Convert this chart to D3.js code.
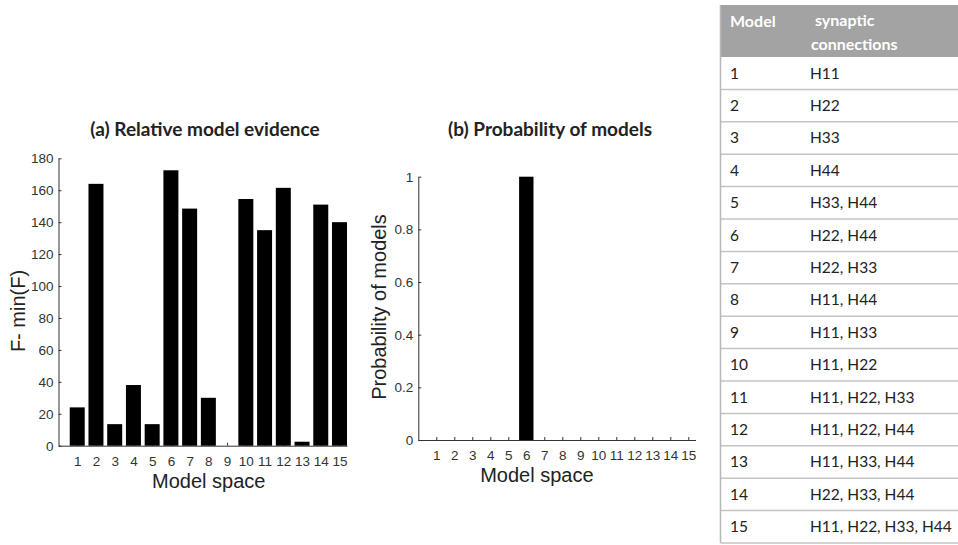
<!DOCTYPE html>
<html>
<head>
<meta charset="utf-8">
<script src="https://cdn.jsdelivr.net/npm/d3@7"></script>
<style>
  html, body { margin: 0; padding: 0; background: #fff; }
  svg { display: block; }
  .label { font-family: "Liberation Sans", Arial, sans-serif; font-size: 20px; fill: #222; }
  .title { font-family: Lato, "Open Sans", sans-serif; font-weight: 700; font-size: 19px; fill: #222; }
  .cell { font-family: Lato, "Open Sans", sans-serif; font-size: 15.5px; fill: #222; }
  .head { font-family: Lato, "Open Sans", sans-serif; font-weight: 700; font-size: 16px; fill: #fff; }
</style>
</head>
<body>
<svg id="chart" width="958" height="545"></svg>
<script>
// Model indices shared by both panels and the table
const models = [1, 2, 3, 4, 5, 6, 7, 8, 9, 10, 11, 12, 13, 14, 15];
// (a) relative log-evidence, F - min(F)
const evidence = [24, 164, 13.5, 38, 13.5, 172.5, 148.5, 30, 0, 154.5, 135, 161.5, 2.5, 151, 140];
// (b) posterior model probability
const probability = [0, 0, 0, 0, 0, 1, 0, 0, 0, 0, 0, 0, 0, 0, 0];
// synaptic connections present in each model
const connections = [
  "H11", "H22", "H33", "H44", "H33, H44", "H22, H44", "H22, H33", "H11, H44",
  "H11, H33", "H11, H22", "H11, H22, H33", "H11, H22, H44", "H11, H33, H44",
  "H22, H33, H44", "H11, H22, H33, H44"
];
const ticksA = [0, 20, 40, 60, 80, 100, 120, 140, 160, 180];
const ticksB = [0, 0.2, 0.4, 0.6, 0.8, 1];
const tableHeader = ["Model", "synaptic", "connections"];

const svg = d3.select("#chart");

function styleAxis(sel) {
  sel.attr("font-family", "'Liberation Sans', Arial, sans-serif").attr("font-size", 13.5);
  sel.selectAll("text").attr("fill", "#333");
  sel.selectAll("path, line").attr("stroke", "#333");
}

function panel(opts) {
  const g = svg.append("g");
  const x = d3.scaleLinear().domain([0, 15.4]).range([opts.x0, opts.x1]);
  const y = d3.scaleLinear().domain(opts.yDomain).range([opts.yBottom, opts.yTop]);
  const step = x(1) - x(0);
  const bw = step * 0.8;

  // x axis drawn first so the bars sit on top of its inward ticks
  g.append("g")
    .attr("transform", `translate(0,${opts.yBottom})`)
    .call(d3.axisBottom(x).tickValues(models).tickSizeInner(-3).tickSizeOuter(0).tickPadding(10.5).tickFormat(d3.format("d")))
    .call(styleAxis);

  g.append("g")
    .attr("transform", `translate(${opts.x0},0)`)
    .call(d3.axisLeft(y).tickValues(opts.ticks).tickSizeInner(-3).tickSizeOuter(0).tickPadding(5).tickFormat(opts.fmt))
    .call(styleAxis);

  g.selectAll("rect.bar").data(models).enter().append("rect")
    .attr("class", "bar")
    .attr("x", d => x(d) - bw / 2)
    .attr("width", bw)
    .attr("y", (d, i) => y(opts.values[i]))
    .attr("height", (d, i) => y(0) - y(opts.values[i]))
    .attr("fill", "#000");

  g.append("text").attr("class", "title")
    .attr("x", opts.titleX).attr("y", 136).attr("text-anchor", "middle")
    .text(opts.title);

  g.append("text").attr("class", "label")
    .attr("x", (opts.x0 + x(15.4)) / 2 + opts.xLabelShift).attr("y", opts.yBottom + 42)
    .attr("text-anchor", "middle").text("Model space");

  g.append("text").attr("class", "label")
    .attr("transform", `translate(${opts.yLabelX},${opts.yLabelY}) rotate(-90)`)
    .attr("text-anchor", "middle").text(opts.yLabel);
}

panel({
  x0: 58.5, x1: 347, yTop: 158.3, yBottom: 445.7, yDomain: [0, 180],
  values: evidence, ticks: ticksA, fmt: d3.format("d"),
  title: "(a) Relative model evidence", titleX: 205,
  yLabel: "F- min(F)", yLabelX: 25, yLabelY: 311, xLabelShift: 6
});

panel({
  x0: 418.3, x1: 695.5, yTop: 176.7, yBottom: 440, yDomain: [0, 1],
  values: probability, ticks: ticksB, fmt: d => d3.format("~g")(d),
  title: "(b) Probability of models", titleX: 550,
  yLabel: "Probability of models", yLabelX: 386, yLabelY: 307, xLabelShift: -20
});

// Table of model definitions
const tX = 720.5, tTop = 5, headBottom = 57, rowH = 32.4;
const t = svg.append("g");
t.append("rect").attr("x", tX).attr("y", tTop).attr("width", 958 - tX).attr("height", headBottom - tTop)
  .attr("fill", "#a3a3a3");
t.append("text").attr("class", "head").attr("x", 730).attr("y", 27).text(tableHeader[0]);
t.append("text").attr("class", "head").attr("x", 815).attr("y", 26).text(tableHeader[1]);
t.append("text").attr("class", "head").attr("x", 811).attr("y", 50).text(tableHeader[2]);

const rows = t.selectAll("g.row").data(models).enter().append("g").attr("class", "row")
  .attr("transform", (d, i) => `translate(0,${headBottom + i * rowH})`);
rows.append("line").attr("x1", tX).attr("x2", 958).attr("y1", rowH).attr("y2", rowH)
  .attr("stroke", "#c4c4c4").attr("stroke-width", 1.5);
rows.append("text").attr("class", "cell").attr("x", 730).attr("y", rowH / 2 + 5.5).text(d => d);
rows.append("text").attr("class", "cell").attr("x", 810).attr("y", rowH / 2 + 5.5).text((d, i) => connections[i]);

t.append("line").attr("x1", tX).attr("x2", tX).attr("y1", tTop).attr("y2", headBottom + 15 * rowH)
  .attr("stroke", "#b8b8b8").attr("stroke-width", 1.5);
</script>
</body>
</html>
